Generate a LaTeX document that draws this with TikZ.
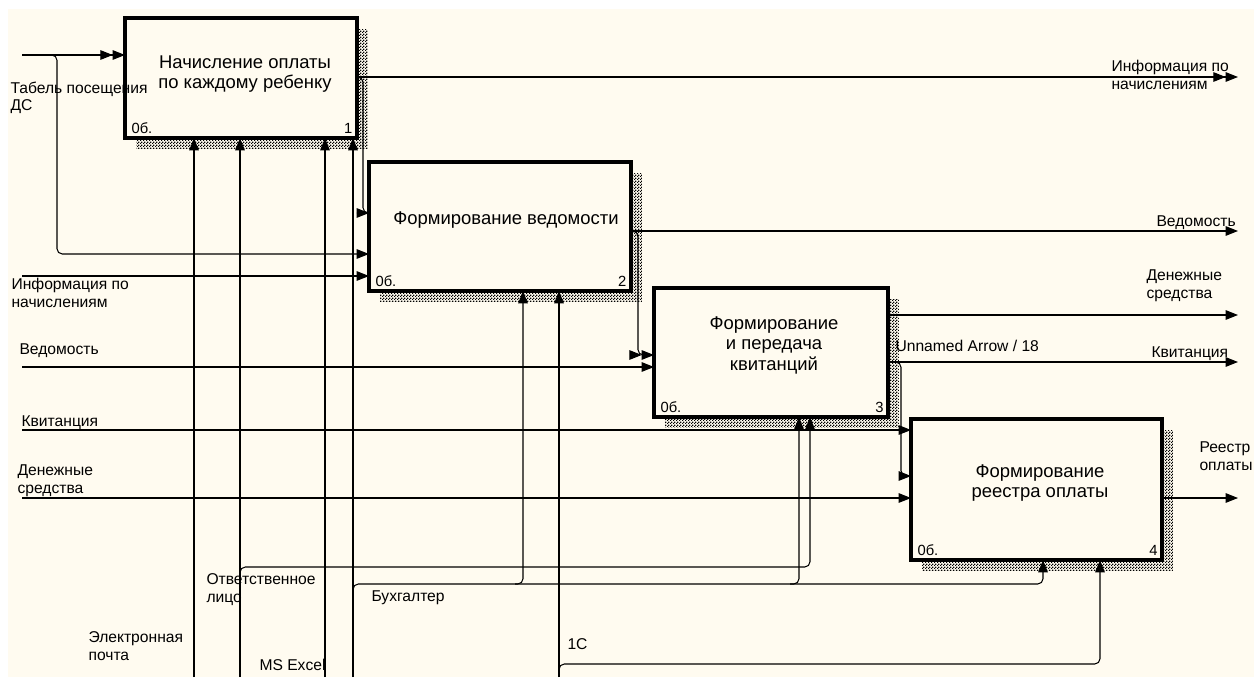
\documentclass[tikz,border=0pt]{standalone}
\usepackage{fontspec}
\setmainfont{Liberation Sans}
\usetikzlibrary{arrows.meta,patterns}
\definecolor{bgc}{RGB}{255,251,240}
\pgfdeclarepatternformonly{finechk}{\pgfpointorigin}{\pgfpoint{1.5pt}{1.5pt}}{\pgfpoint{1.5pt}{1.5pt}}{%
  \pgfpathrectangle{\pgfpointorigin}{\pgfpoint{0.75pt}{0.75pt}}%
  \pgfpathrectangle{\pgfpoint{0.75pt}{0.75pt}}{\pgfpoint{0.75pt}{0.75pt}}%
  \pgfusepath{fill}}

\begin{document}
\begin{tikzpicture}[x=0.02cm, y=-0.02cm, >={Triangle[length=7pt,width=5.4pt]}, line width=0.6pt,
    fbox/.style={draw, line width=1.8pt, fill=bgc, inner sep=0pt, outer sep=0pt,
      preaction={pattern=finechk, pattern color=black, transform canvas={shift={(11,11)}}}},
    btext/.style={anchor=north, align=center, inner sep=0pt, font=\fontsize{10.5pt}{11.6pt}\selectfont},
    lbl/.style={anchor=north west, align=left, inner sep=0pt, font=\fontsize{8.9pt}{10.2pt}\selectfont},
    num/.style={inner sep=0pt, font=\fontsize{8.4pt}{10pt}\selectfont},
    rc/.style={rounded corners=3pt}]
    % фон
    \useasboundingbox (0,0) rectangle (1254,677);
    \fill[white] (0,0) rectangle (1254,677);
    \fill[bgc] (8,9) rectangle (1254,677);

    % блоки
    \node[fbox, minimum width=4.64cm, minimum height=2.4cm] (b1) at (241,78) {};
    \node[fbox, minimum width=5.24cm, minimum height=2.58cm] (b2) at (500,226.5) {};
    \node[fbox, minimum width=4.68cm, minimum height=2.58cm] (b3) at (771,352.5) {};
    \node[fbox, minimum width=5.02cm, minimum height=2.82cm] (b4) at (1036.5,489.5) {};

    \node[btext] (t1) at (245,55) {Начисление оплаты\\по каждому ребенку};
    \node[btext] (t2) at (506,211) {Формирование ведомости};
    \node[btext] (t3) at (774,316) {Формирование\\и передача\\квитанций};
    \node[btext] (t4) at (1040,464) {Формирование\\реестра оплаты};

    \node[num, anchor=base west] (c1) at ([shift={(6,-4)}]b1.south west) {0б.};
    \node[num, anchor=base east] (n1) at ([shift={(-4,-4)}]b1.south east) {1};
    \node[num, anchor=base west] (c2) at ([shift={(6,-4)}]b2.south west) {0б.};
    \node[num, anchor=base east] (n2) at ([shift={(-4,-4)}]b2.south east) {2};
    \node[num, anchor=base west] (c3) at ([shift={(6,-4)}]b3.south west) {0б.};
    \node[num, anchor=base east] (n3) at ([shift={(-4,-4)}]b3.south east) {3};
    \node[num, anchor=base west] (c4) at ([shift={(6,-4)}]b4.south west) {0б.};
    \node[num, anchor=base east] (n4) at ([shift={(-4,-4)}]b4.south east) {4};

    % концы стрелок
    \coordinate (tab) at (22,55);
    \coordinate (infl) at (22,276);
    \coordinate (vedl) at (22,367);
    \coordinate (kvl) at (22,430);
    \coordinate (denl) at (22,498);
    \coordinate (infr) at (1238,77);
    \coordinate (vedr) at (1238,231);
    \coordinate (denr) at (1238,315);
    \coordinate (kvr) at (1238,362);
    \coordinate (reer) at (1238,498);
    \coordinate (mail) at (194,677);
    \coordinate (otv) at (240,677);
    \coordinate (excel) at (325,677);
    \coordinate (buh) at (353,677);
    \coordinate (odin) at (559,677);

    % входы
    \draw[->>] (tab) -- (tab -| b1.west);
    \draw[->, rc] (48,55) -| (57,254) -- (57,254 -| b2.west);
    \draw[->] (infl) -- (infl -| b2.west);
    \draw[->] (vedl) -- (vedl -| b3.west);
    \draw[->] (kvl) -- (kvl -| b4.west);
    \draw[->] (denl) -- (denl -| b4.west);

    % выходы
    \draw[->>] (infr -| b1.east) -- (infr);
    \draw[->, rc] (infr -| b1.east) -| (363,213) -- (363,213 -| b2.west);
    \draw[->] (vedr -| b2.east) -- (vedr);
    \draw[->>, rc] (vedr -| b2.east) -| (638,355) -- (638,355 -| b3.west);
    \draw[->] (denr -| b3.east) -- (denr);
    \draw[->] (kvr -| b3.east) -- (kvr);
    \draw[->, rc] (kvr -| b3.east) -| (901,476) -- (901,476 -| b4.west);
    \draw[->] (reer -| b4.east) -- (reer);

    % механизмы
    \draw[->] (mail) -- (mail |- b1.south);
    \draw[->] (otv) -- (otv |- b1.south);
    \draw[->] (excel) -- (excel |- b1.south);
    \draw[->] (buh) -- (buh |- b1.south);
    \draw[->] (odin) -- (odin |- b2.south);
    \draw[->, rc] (240,573) |- (810,567) -- (810,567 |- b3.south);
    \draw[->, rc] (353,590) |- (1043,584) -- (1043,584 |- b4.south);
    \draw[->, rc] (515,584) -| (523,584 |- b2.south);
    \draw[->, rc] (790,584) -| (799,584 |- b3.south);
    \draw[->, rc] (559,670) |- (1100,664) -- (1100,664 |- b4.south);

    % подписи
    \node[lbl] (l1) at (10,81) {Табель посещения\\ДС};
    \node[lbl] (l2) at (11,278) {Информация по\\начислениям};
    \node[lbl] (l3) at (19,343) {Ведомость};
    \node[lbl] (l4) at (21,415) {Квитанция};
    \node[lbl] (l5) at (17,464) {Денежные\\средства};
    \node[lbl] (l6) at (1111,60) {Информация по\\начислениям};
    \node[lbl] (l7) at (1156,215) {Ведомость};
    \node[lbl] (l8) at (1146,269) {Денежные\\средства};
    \node[lbl] (l9) at (895,340) {Unnamed Arrow / 18};
    \node[lbl] (l10) at (1151,346) {Квитанция};
    \node[lbl] (l11) at (1199,441) {Реестр\\оплаты};
    \node[lbl] (l12) at (206,573) {Ответственное\\лицо};
    \node[lbl] (l13) at (371,590) {Бухгалтер};
    \node[lbl] (l14) at (567,638) {1С};
    \node[lbl] (l15) at (259,659) {MS Excel};
    \node[lbl] (l16) at (88,631) {Электронная\\почта};
\end{tikzpicture}
\end{document}
